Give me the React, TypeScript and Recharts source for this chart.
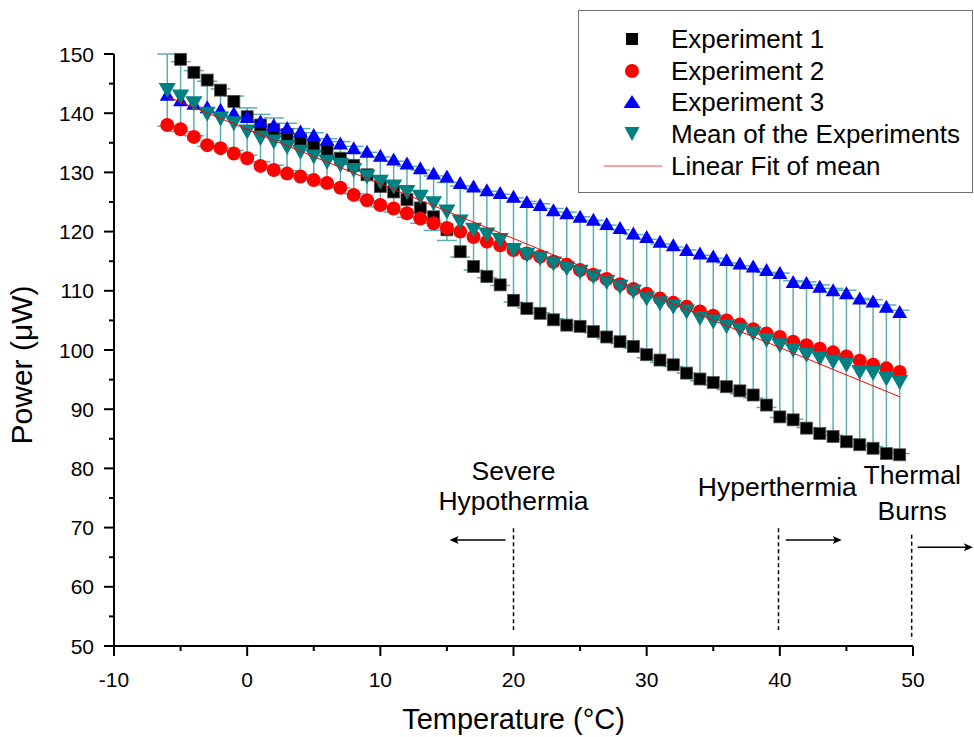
import React from 'react';
import {
  ScatterChart,
  Scatter,
  XAxis,
  YAxis,
  ErrorBar,
  ReferenceLine,
  ReferenceDot,
  Legend,
} from 'recharts';

const FONT = '"Liberation Sans", Arial, sans-serif';

// temperature (°C), one point per degree
const temps = [
  -6, -5, -4, -3, -2, -1, 0, 1, 2, 3, 4, 5, 6, 7, 8, 9, 10, 11, 12, 13, 14, 15, 16, 17, 18, 19, 20, 21,
  22, 23, 24, 25, 26, 27, 28, 29, 30, 31, 32, 33, 34, 35, 36, 37, 38, 39, 40, 41, 42, 43, 44, 45, 46,
  47, 48, 49,
];

// power (µW)
const exp1 = [
  null, 149.1, 146.9, 145.6, 143.9, 142.0, 139.4, 138.0, 137.2, 136.4, 135.6, 134.6, 133.6, 132.4,
  131.2, 129.6, 127.6, 126.7, 125.4, 124.0, 122.5, 120.3, 116.6, 114.1, 112.4, 111.0, 108.4, 107.0,
  106.2, 105.1, 104.2, 104.0, 103.1, 102.2, 101.4, 100.6, 99.2, 98.3, 97.5, 96.1, 95.1, 94.5, 93.8,
  93.1, 92.4, 90.7, 88.7, 88.2, 86.8, 85.9, 85.4, 84.5, 84.0, 83.4, 82.5, 82.3,
];
const exp2 = [
  138.0, 137.3, 136.0, 134.6, 134.1, 133.2, 132.4, 131.1, 130.4, 129.8, 129.3, 128.7, 128.2, 127.4,
  126.2, 125.3, 124.5, 123.9, 123.1, 122.2, 121.4, 120.6, 120.0, 119.1, 118.3, 117.7, 116.9, 116.3,
  115.8, 114.9, 114.4, 113.5, 112.7, 112.0, 111.1, 110.3, 109.5, 108.7, 108.0, 107.3, 106.5, 105.8,
  105.0, 104.3, 103.5, 102.8, 102.2, 101.4, 100.8, 100.2, 99.6, 98.9, 98.2, 97.5, 96.9, 96.3,
];
const exp3 = [
  143.1, 142.2, 141.6, 141.0, 140.6, 140.0, 139.4, 138.6, 138.0, 137.5, 136.9, 136.3, 135.5, 134.9,
  134.1, 133.5, 132.8, 132.2, 131.5, 130.7, 129.8, 129.3, 128.2, 127.6, 127.0, 126.5, 125.9, 125.0,
  124.5, 123.6, 123.1, 122.5, 122.0, 121.3, 120.6, 119.7, 119.1, 118.3, 117.7, 116.9, 116.3, 115.8,
  115.2, 114.6, 114.1, 113.5, 113.0, 111.5, 111.3, 110.7, 110.1, 109.6, 108.7, 108.2, 107.3, 106.4,
];
const meanVals = [
  143.9, 142.8, 141.7, 139.9, 139.1, 138.3, 136.9, 135.8, 135.2, 134.3, 133.5, 132.7, 131.8, 131.3,
  130.4, 129.3, 128.4, 127.6, 126.7, 125.9, 124.8, 123.4, 121.7, 120.3, 119.5, 118.6, 116.9, 116.1,
  115.5, 114.6, 113.8, 113.2, 112.4, 111.5, 110.7, 109.9, 108.7, 107.9, 107.3, 106.5, 105.4, 104.8,
  104.0, 103.4, 102.8, 101.7, 100.8, 100.0, 99.2, 98.6, 98.0, 97.5, 96.3, 96.1, 95.2, 94.6,
];
// standard deviation of the mean (error bars)
const meanErr = [
  6.1, 5.9, 5.5, 5.5, 5.0, 4.6, 4.0, 4.0, 4.0, 4.0, 3.9, 4.0, 3.9, 3.9, 4.0, 4.1, 4.2, 4.3, 4.3, 4.5,
  4.6, 4.9, 6.0, 6.8, 7.3, 7.7, 8.8, 9.0, 9.2, 9.3, 9.5, 9.3, 9.5, 9.6, 9.6, 9.6, 10.0, 10.0, 10.1,
  10.4, 10.6, 10.7, 10.7, 10.8, 10.9, 11.4, 12.2, 11.7, 12.3, 12.4, 12.4, 12.6, 12.4, 12.4, 12.4, 12.1,
];
// linear fit of the mean, end points
const fitX = [-6, 49];
const fitY = [142.8, 92.1];

const xTicks = [-10, -5, 0, 5, 10, 15, 20, 25, 30, 35, 40, 45, 50];
const yTicks = [50, 55, 60, 65, 70, 75, 80, 85, 90, 95, 100, 105, 110, 115, 120, 125, 130, 135, 140, 145, 150];

const toPts = (ys: (number | null)[]) =>
  temps.map((x, i) => ({ x, y: ys[i] })).filter((p) => p.y !== null);

const exp1Data = toPts(exp1);
const exp2Data = toPts(exp2);
const exp3Data = toPts(exp3);
const meanData = temps.map((x, i) => ({ x, y: meanVals[i], err: meanErr[i] }));
const fitData = fitX.map((x, i) => ({ x, y: fitY[i] }));

const Square = (p: any) => (
  <rect x={p.cx - 6} y={p.cy - 6} width={12} height={12} fill="#000" stroke="#555" strokeWidth={0.8} />
);
const Circle = (p: any) => <circle cx={p.cx} cy={p.cy} r={7} fill="#ff0000" />;
const TriUp = (p: any) => (
  <path d={`M${p.cx},${p.cy - 7} L${p.cx + 7.5},${p.cy + 6} L${p.cx - 7.5},${p.cy + 6} Z`} fill="#0000ff" />
);
const TriDown = (p: any) => (
  <path d={`M${p.cx - 8.5},${p.cy - 7} L${p.cx + 8.5},${p.cy - 7} L${p.cx},${p.cy + 8} Z`} fill="#008080" />
);
const NoDot = () => <g />;

const XTick = (p: any) => {
  const v = p.payload.value;
  const major = v % 10 === 0;
  return (
    <g>
      <line x1={p.x} x2={p.x} y1={p.y} y2={p.y + (major ? 10 : 5)} stroke="#000" strokeWidth={2} />
      {major && (
        <text x={p.x} y={p.y + 41} textAnchor="middle" fontSize={21} fontFamily={FONT} fill="#000">
          {v}
        </text>
      )}
    </g>
  );
};

const YTick = (p: any) => {
  const v = p.payload.value;
  const major = v % 10 === 0;
  return (
    <g>
      <line x1={p.x - (major ? 10 : 5)} x2={p.x} y1={p.y} y2={p.y} stroke="#000" strokeWidth={2} />
      {major && (
        <text x={p.x - 20} y={p.y + 7.5} textAnchor="end" fontSize={21} fontFamily={FONT} fill="#000">
          {v}
        </text>
      )}
    </g>
  );
};

const legendItems = [
  { name: 'Experiment 1', icon: <rect x={47} y={10} width={12} height={12} fill="#000" /> },
  { name: 'Experiment 2', icon: <circle cx={53} cy={16} r={7} fill="#ff0000" /> },
  { name: 'Experiment 3', icon: <path d="M53,9 L61.5,22 L44.5,22 Z" fill="#0000ff" /> },
  { name: 'Mean of the Experiments', icon: <path d="M45.5,9 L60.5,9 L53,23 Z" fill="#008080" /> },
  { name: 'Linear Fit of mean', icon: <line x1={25} x2={83} y1={16} y2={16} stroke="#ff4040" strokeWidth={1} /> },
];

const LegendBox = () => (
  <div
    style={{
      width: 395,
      height: 183,
      border: '1.5px solid #707070',
      boxSizing: 'border-box',
      background: '#fff',
      position: 'relative',
      fontFamily: FONT,
      fontSize: 26,
      color: '#000',
    }}
  >
    {legendItems.map((item, i) => (
      <div
        key={item.name}
        style={{ position: 'absolute', left: 0, top: 12 + i * 31.7, height: 32, display: 'flex', alignItems: 'center' }}
      >
        <svg width={92} height={32} style={{ display: 'block' }}>
          {item.icon}
        </svg>
        <span style={{ lineHeight: 1, whiteSpace: 'nowrap' }}>{item.name}</span>
      </div>
    ))}
  </div>
);

const textAt = (label: string, anchor: 'start' | 'middle') => (p: any) => (
  <text x={p.cx} y={p.cy} textAnchor={anchor} fontSize={26.5} fontFamily={FONT} fill="#000">
    {label}
  </text>
);
const headLeft = (p: any) => <path d={`M${p.cx},${p.cy} l9,-4 l-2,4 l2,4 z`} fill="#000" />;
const headRight = (p: any) => <path d={`M${p.cx},${p.cy} l-9,-4 l2,4 l-2,4 z`} fill="#000" />;

const dash = { stroke: '#000', strokeWidth: 1.5, strokeDasharray: '4 3' };

export default function App() {
  return (
    <div style={{ position: 'absolute', left: 0, top: 0, width: 974, height: 737, background: '#fff' }}>
      <ScatterChart width={974} height={737} margin={{ top: 54, right: 61, bottom: 0, left: 0 }}>
        <XAxis
          type="number"
          dataKey="x"
          domain={[-10, 50]}
          ticks={xTicks}
          interval={0}
          tickSize={0}
          tickMargin={0}
          tickLine={false}
          tick={<XTick />}
          axisLine={{ stroke: '#000', strokeWidth: 2 }}
          height={91}
          label={{
            content: (lp: any) => (
              <text
                x={lp.viewBox.x + lp.viewBox.width / 2}
                y={lp.viewBox.y + lp.viewBox.height - 8}
                textAnchor="middle"
                fontSize={29}
                fontFamily={FONT}
                fill="#000"
              >
                Temperature (°C)
              </text>
            ),
          }}
        />
        <YAxis
          type="number"
          dataKey="y"
          domain={[50, 150]}
          ticks={yTicks}
          interval={0}
          tickSize={0}
          tickMargin={0}
          tickLine={false}
          tick={<YTick />}
          axisLine={{ stroke: '#000', strokeWidth: 2 }}
          width={114}
          label={{
            content: (lp: any) => {
              const cx = 32;
              const cy = lp.viewBox.y + lp.viewBox.height / 2 + 15;
              return (
                <text
                  x={cx}
                  y={cy}
                  transform={`rotate(-90 ${cx} ${cy})`}
                  textAnchor="middle"
                  fontSize={30}
                  fontFamily={FONT}
                  fill="#000"
                >
                  Power (μW)
                </text>
              );
            },
          }}
        />
        <Legend
          layout="vertical"
          align="center"
          verticalAlign="middle"
          wrapperStyle={{ left: 578, top: 10, width: 395, height: 183 }}
          content={() => <LegendBox />}
        />

        <Scatter name="Experiment 1" data={exp1Data} shape={Square} isAnimationActive={false} />
        <Scatter name="Experiment 2" data={exp2Data} shape={Circle} isAnimationActive={false} />
        <Scatter name="Experiment 3" data={exp3Data} shape={TriUp} isAnimationActive={false} />
        <Scatter name="Mean of the Experiments" data={meanData} shape={TriDown} isAnimationActive={false}>
          <ErrorBar dataKey="err" direction="y" width={10} stroke="#5aaeae" strokeWidth={1.5} />
        </Scatter>
        <Scatter
          name="Linear Fit of mean"
          data={fitData}
          shape={NoDot}
          line={{ stroke: '#ff0000', strokeWidth: 1 }}
          isAnimationActive={false}
        />

        {/* range markers */}
        <ReferenceLine segment={[{ x: 20, y: 69.9 }, { x: 20, y: 52.7 }]} {...dash} ifOverflow="visible" />
        <ReferenceLine segment={[{ x: 39.9, y: 69.9 }, { x: 39.9, y: 52.7 }]} {...dash} ifOverflow="visible" />
        <ReferenceLine segment={[{ x: 49.9, y: 68.8 }, { x: 49.9, y: 51.0 }]} {...dash} ifOverflow="visible" />

        <ReferenceLine segment={[{ x: 19.4, y: 67.9 }, { x: 15.6, y: 67.9 }]} stroke="#000" strokeWidth={1.5} ifOverflow="visible" />
        <ReferenceDot x={15.2} y={67.9} r={0} shape={headLeft} ifOverflow="visible" />
        <ReferenceLine segment={[{ x: 40.45, y: 67.9 }, { x: 44.3, y: 67.9 }]} stroke="#000" strokeWidth={1.5} ifOverflow="visible" />
        <ReferenceDot x={44.65} y={67.9} r={0} shape={headRight} ifOverflow="visible" />
        <ReferenceLine segment={[{ x: 50.35, y: 66.7 }, { x: 54.1, y: 66.7 }]} stroke="#000" strokeWidth={1.5} ifOverflow="visible" />
        <ReferenceDot x={54.5} y={66.7} r={0} shape={headRight} ifOverflow="visible" />

        <ReferenceDot x={20} y={78.1} r={0} shape={textAt('Severe', 'middle')} ifOverflow="visible" />
        <ReferenceDot x={20} y={73.0} r={0} shape={textAt('Hypothermia', 'middle')} ifOverflow="visible" />
        <ReferenceDot x={33.84} y={75.4} r={0} shape={textAt('Hyperthermia', 'start')} ifOverflow="visible" />
        <ReferenceDot x={49.94} y={77.4} r={0} shape={textAt('Thermal', 'middle')} ifOverflow="visible" />
        <ReferenceDot x={49.94} y={71.3} r={0} shape={textAt('Burns', 'middle')} ifOverflow="visible" />
      </ScatterChart>
    </div>
  );
}
